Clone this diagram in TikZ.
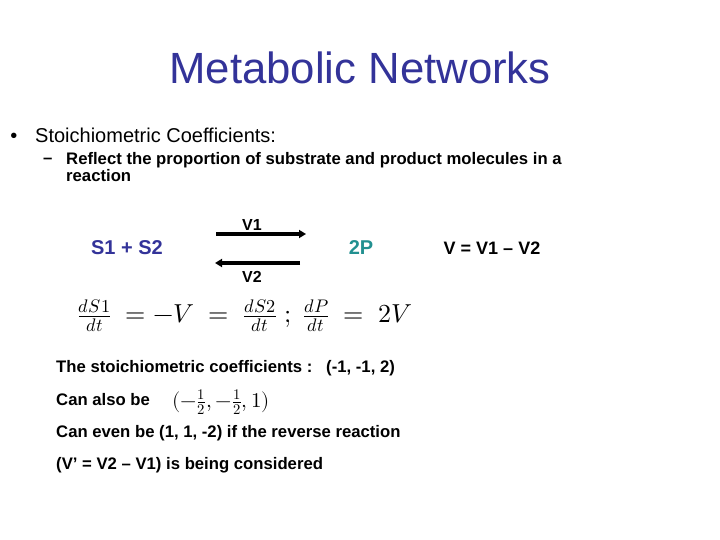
\documentclass[tikz,border=0pt]{standalone}
\usepackage{fontspec}
\setmainfont{Liberation Sans}
\usepackage{amsmath}
\usepackage{unicode-math}
\setmathfont{Latin Modern Math}
\usetikzlibrary{arrows.meta}
\definecolor{titleblue}{RGB}{51,51,153}
\definecolor{teal2}{RGB}{34,144,144}
\begin{document}
\begin{tikzpicture}[x=1pt,y=-1pt,
  txt/.style={anchor=west,inner sep=0pt,font=\fontsize{16.7}{19}\selectfont\bfseries},
  lbl/.style={inner sep=0pt,font=\fontsize{16}{18}\selectfont\bfseries},
  big/.style={inner sep=0pt,font=\fontsize{20}{24}\selectfont\bfseries},
  rxn/.style={line width=3.3pt,-{Triangle[length=7pt,width=8pt]}}]
\useasboundingbox (0,0) rectangle (720,540);
\node[inner sep=0pt,text=titleblue,font=\fontsize{43.7}{48}\selectfont] (title) at (360,68) {Metabolic Networks};
\node[anchor=base,inner sep=0pt,font=\fontsize{20}{24}\selectfont] (bul) at (14,143) {•};
\node[anchor=base west,inner sep=0pt,font=\fontsize{20}{24}\selectfont] (b1) at (35,143) {Stoichiometric Coefficients:};
\node[txt] (dash) at (43,161) {–};
\node[txt,align=left,anchor=north west] (b2) at (66,152.5) {Reflect the proportion of substrate and product molecules in a\\[-2.5pt]reaction};
\node[lbl] (v1) at (252,225) {V1};
\node[lbl] (v2) at (252,277) {V2};
\coordinate (a1s) at (216,234);
\coordinate (a1e) at (306,234);
\coordinate (a2s) at (300,263);
\coordinate (a2e) at (215,263);
\draw[rxn] (a1s) -- (a1e);
\draw[rxn] (a2s) -- (a2e);
\node[big,text=titleblue] (s) at (127,248) {S1 + S2};
\node[big,text=teal2] (p) at (361,248) {2P};
\node[inner sep=0pt,font=\fontsize{18}{20}\selectfont\bfseries] (vv) at (492,248) {V = V1 – V2};
\node[inner sep=0pt,font=\fontsize{26}{30}\selectfont] (eq) at (245,316) {$\frac{dS1}{dt}\;=-V\;=\;\frac{dS2}{dt}\;;\;\frac{dP}{dt}\;=\;2V$};
\node[txt] (t1) at (56,368) {The stoichiometric coefficients :\ \ \ (-1, -1, 2)};
\node[txt] (t2) at (56,400) {Can also be};
\node[anchor=west,inner sep=0pt,font=\fontsize{21}{24}\selectfont] (t2m) at (172,402) {$(-\frac{1}{2},-\frac{1}{2},1)$};
\node[txt] (t3) at (56,433) {Can even be (1, 1, -2) if the reverse reaction};
\node[txt] (t4) at (56,465) {(V’ = V2 – V1) is being considered};
\end{tikzpicture}
\end{document}
